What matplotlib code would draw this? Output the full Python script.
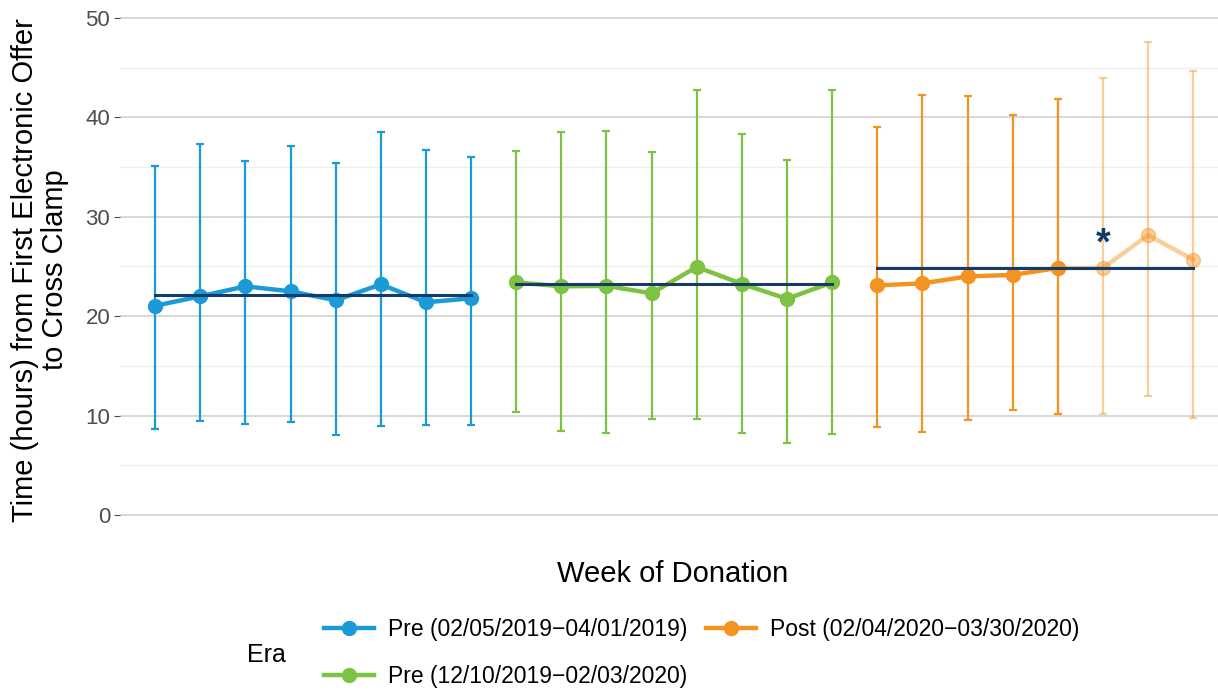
import matplotlib.pyplot as plt

plt.rcParams['font.family'] = ['Liberation Sans', 'DejaVu Sans']

# data
weeks_pre1 = [1, 2, 3, 4, 5, 6, 7, 8]
mean_pre1 = [21.05, 22.0, 23.0, 22.5, 21.6, 23.2, 21.4, 21.8]
low_pre1 = [8.65, 9.45, 9.2, 9.35, 8.05, 8.95, 9.05, 9.1]
high_pre1 = [35.1, 37.3, 35.6, 37.1, 35.4, 38.5, 36.7, 36.0]
era_mean_pre1 = 22.1

weeks_pre2 = [9, 10, 11, 12, 13, 14, 15, 16]
mean_pre2 = [23.4, 23.0, 23.05, 22.3, 24.95, 23.25, 21.75, 23.4]
low_pre2 = [10.4, 8.45, 8.3, 9.7, 9.65, 8.3, 7.25, 8.2]
high_pre2 = [36.65, 38.55, 38.65, 36.5, 42.7, 38.35, 35.7, 42.7]
era_mean_pre2 = 23.2

weeks_post = [17, 18, 19, 20, 21, 22, 23, 24]
mean_post = [23.1, 23.3, 24.0, 24.15, 24.85, 24.85, 28.15, 25.7]
low_post = [8.9, 8.4, 9.6, 10.6, 10.2, 10.2, 12.0, 9.75]
high_post = [39.0, 42.2, 42.1, 40.2, 41.8, 43.9, 47.6, 44.6]
era_mean_post = 24.8
n_post_solid = 5  # last weeks drawn faded

labels = ['Pre (02/05/2019\u221204/01/2019)',
          'Pre (12/10/2019\u221202/03/2020)',
          'Post (02/04/2020\u221203/30/2020)']
colors = ['#1a9ad7', '#7dc242', '#f39321']
navy = '#173b69'

fig = plt.figure(figsize=(12.18, 6.92), dpi=100)
ax = fig.add_axes([0.0985, 0.234, 0.9015, 0.759])


def draw_era(x, y, lo, hi, color, alpha=1.0, label=None):
    yerr = [[m - l for m, l in zip(y, lo)], [h - m for m, h in zip(y, hi)]]
    ax.errorbar(x, y, yerr=yerr, fmt='none', ecolor=color, elinewidth=1.6,
                capsize=3.2, capthick=1.6, alpha=alpha, zorder=2)
    ax.plot(x, y, '-o', color=color, lw=3.2, ms=10, alpha=alpha,
            label=label, zorder=3)


draw_era(weeks_pre1, mean_pre1, low_pre1, high_pre1, colors[0], label=labels[0])
draw_era(weeks_pre2, mean_pre2, low_pre2, high_pre2, colors[1], label=labels[1])
k = n_post_solid
draw_era(weeks_post[:k], mean_post[:k], low_post[:k], high_post[:k], colors[2],
         label=labels[2])
draw_era(weeks_post[k - 1:], mean_post[k - 1:], low_post[k - 1:], high_post[k - 1:],
         colors[2], alpha=0.45)

for w, m in [(weeks_pre1, era_mean_pre1), (weeks_pre2, era_mean_pre2),
             (weeks_post, era_mean_post)]:
    ax.plot([w[0], w[-1]], [m, m], color=navy, lw=2.2, zorder=4)

ax.text(weeks_post[k], mean_post[k] + 2.4, '*', color=navy, fontsize=27,
        fontweight='bold', ha='center', va='center')

ax.set_xlim(0.22, 24.55)
ax.set_ylim(-1.5, 51.3)
ax.set_yticks([0, 10, 20, 30, 40, 50])
ax.set_yticks([5, 15, 25, 35, 45], minor=True)
ax.set_xticks([])
ax.grid(axis='y', which='major', color='#d6d6d6', lw=1.3)
ax.grid(axis='y', which='minor', color='#efefef', lw=0.9)
ax.set_axisbelow(True)
for s in ax.spines.values():
    s.set_visible(False)
ax.tick_params(axis='y', which='major', length=4, color='#4d4d4d',
               labelcolor='#4d4d4d', labelsize=16, pad=3)
ax.tick_params(axis='y', which='minor', length=0)

ax.set_ylabel('Time (hours) from First Electronic Offer\nto Cross Clamp',
              fontsize=21, linespacing=1.12)
ax.yaxis.set_label_coords(-0.046, 0.495)
fig.text(0.552, 0.171, 'Week of Donation', fontsize=21, ha='center', va='center')

fig.text(0.203, 0.053, 'Era', fontsize=18, ha='left', va='center')
fig.legend(loc='center left', bbox_to_anchor=(0.249, 0.056), ncol=2,
           frameon=False, fontsize=16.5, handlelength=2.2, columnspacing=0.8,
           labelspacing=1.05, handletextpad=0.6)

plt.savefig('out.png', dpi=100)
plt.close()
